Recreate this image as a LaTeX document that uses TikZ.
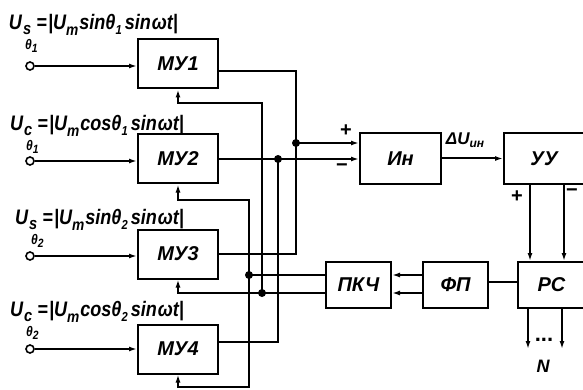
\documentclass[tikz,border=0pt]{standalone}
\usepackage{fontspec}
\setmainfont{Liberation Sans}
\newfontfamily\narrowfont[FakeStretch=0.86]{Liberation Sans}
\usetikzlibrary{arrows.meta,positioning}

\newcommand{\usig}[3]{%
  U\hspace{1pt}\rlap{\raisebox{-5pt}{\fontsize{17}{17}\selectfont #1}}\hspace{2pt}%
  \raisebox{-20pt}{\fontsize{14}{14}\selectfont θ\raisebox{-3pt}{\fontsize{12}{12}\selectfont #2}}%
  \hspace{-1pt}=\hspace{1pt}|U\raisebox{-6pt}{\fontsize{16}{16}\selectfont m}\hspace{1pt}#3θ%
  \raisebox{-5pt}{\fontsize{13}{13}\selectfont #2}\hspace{3pt}sin\hspace{1pt}ωt|}

\begin{document}
\begin{tikzpicture}[
  x=1pt, y=-1pt, line width=2pt,
  block/.style={draw, minimum width=80pt, minimum height=49pt, inner sep=0pt,
                font=\fontsize{20}{20}\selectfont\bfseries\itshape},
  sig/.style={-{Latex[length=8pt,width=5pt]}},
  jn/.style={circle, fill, inner sep=0pt, minimum size=8pt},
  term/.style={circle, draw, fill=white, inner sep=0pt, minimum size=8pt, line width=1.6pt},
  lbl/.style={anchor=base west, inner sep=0pt, font=\fontsize{21}{21}\narrowfont\bfseries\itshape},
  sign/.style={inner sep=0pt, font=\fontsize{20}{20}\selectfont\bfseries}
]
  \useasboundingbox (0,0) rectangle (583,390);

  \node[block] (mu1) at (178,64) {МУ1};
  \node[block] (mu2) at (178,159) {МУ2};
  \node[block] (mu3) at (178,254) {МУ3};
  \node[block] (mu4) at (178,349) {МУ4};

  \node[block, minimum width=81pt, minimum height=51pt] (inv) at (400.5,158.5) {Ин};
  \node[block, minimum height=51pt, right=61pt of inv] (uu) {УУ};
  \node[block, minimum width=65pt, minimum height=46pt] (pkc) at (358.5,285) {ПКЧ};
  \node[block, minimum width=65pt, minimum height=46pt, right=30pt of pkc] (fp) {ФП};
  \node[block, minimum width=67pt, minimum height=46pt, right=28pt of fp] (rs) {РС};

  \node[term] (t1) at (30,66) {};
  \node[term] (t2) at (30,161) {};
  \node[term] (t3) at (30,256) {};
  \node[term] (t4) at (30,349) {};

  \node[lbl] (l1) at (8,30) {\usig{s}{1}{sin}};
  \node[lbl] (l2) at (9,131) {\usig{c}{1}{cos}};
  \node[lbl] (l3) at (14,224) {\usig{s}{2}{sin}};
  \node[lbl] (l4) at (9,316) {\usig{c}{2}{cos}};

  \node[jn] (jp) at (296,143) {};
  \node[jn] (jm) at (278,159) {};
  \node[jn] (ja) at (249,275) {};
  \node[jn] (jb) at (262,293) {};

  \draw[sig] (t1) -- (t1 -| mu1.west);
  \draw[sig] (t2) -- (t2 -| mu2.west);
  \draw[sig] (t3) -- (t3 -| mu3.west);
  \draw[sig] (t4) -- (t4 -| mu4.west);

  \draw ([yshift=-7pt]mu1.east) -| (jp.center |- mu3.east) -- (mu3.east);
  \draw (jm.center) |- ([yshift=7pt]mu4.east);
  \draw[sig] (jp.center) -- (jp.center -| inv.west);
  \draw[sig] (mu2.east) -- (mu2.east -| inv.west);

  \draw[sig] (jb.center) |- ([yshift=-14pt]mu1.south) -- (mu1.south);
  \draw[sig] (ja.center) |- ([yshift=-15pt]mu2.south) -- (mu2.south);
  \draw[sig] ([yshift=-8pt]pkc.west) -| (mu3.south);
  \draw[sig] (ja.center) |- ([yshift=-12pt]mu4.south) -- (mu4.south);
  \draw ([yshift=10pt]pkc.west) -- (ja.center);

  \draw[sig] (inv.east) -- (uu.west);
  \draw[sig] ([xshift=-14pt]uu.south) -- ([xshift=-14pt]uu.south |- rs.north);
  \draw[sig] ([xshift=20pt]uu.south) -- ([xshift=20pt]uu.south |- rs.north);
  \draw[sig] ([yshift=10pt]fp.west) -- ([yshift=10pt]pkc.east);
  \draw[sig] ([yshift=-8pt]fp.west) -- ([yshift=-8pt]pkc.east);
  \draw ([yshift=3pt]fp.east) -- ([yshift=3pt]rs.west);

  \coordinate (n1) at (528,349);
  \coordinate (n2) at (562,349);
  \draw[sig] (rs.south -| n1) -- (n1);
  \draw[sig] (rs.south -| n2) -- (n2);

  \node[inner sep=0pt, font=\fontsize{17}{17}\selectfont\bfseries\itshape] (du) at (465,140) {ΔU\raisebox{-3pt}{\fontsize{12}{12}\selectfont ин}};
  \node[sign] (p1) at (346,131) {+};
  \node[sign] (m1) at (342,168) {−};
  \node[sign] (p2) at (517,197) {+};
  \node[sign] (m2) at (572,193) {−};
  \node[inner sep=0pt, font=\fontsize{22}{22}\selectfont\bfseries] (dots) at (544,340) {...};
  \node[inner sep=0pt, font=\fontsize{18}{18}\selectfont\bfseries\itshape] (nn) at (543,366) {N};
\end{tikzpicture}
\end{document}
